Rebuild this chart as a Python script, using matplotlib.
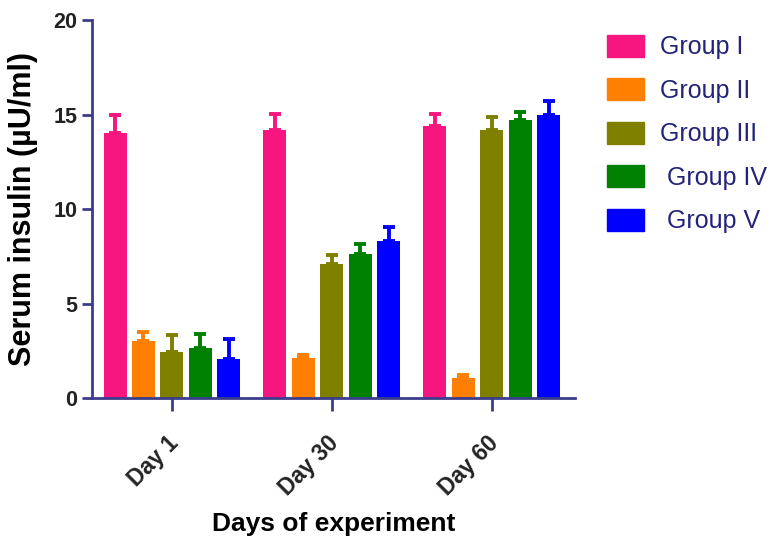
import numpy as np
import matplotlib
matplotlib.use("Agg")
import matplotlib.pyplot as plt
import matplotlib.transforms as mtransforms
from matplotlib.patches import Patch

plt.rcParams["font.family"] = ["Liberation Sans", "DejaVu Sans"]

# data
days = ["Day 1", "Day 30", "Day 60"]
groups = ["Group I", "Group II", "Group III", " Group IV", " Group V"]
colors = ["#f7157f", "#ff8000", "#808000", "#008000", "#0000ff"]

group_1 = [14.0, 14.2, 14.4]
group_2 = [3.0, 2.1, 1.05]
group_3 = [2.45, 7.1, 14.2]
group_4 = [2.65, 7.6, 14.7]
group_5 = [2.05, 8.3, 15.0]
means = [group_1, group_2, group_3, group_4, group_5]

err_1 = [0.95, 0.85, 0.65]
err_2 = [0.5, 0.15, 0.17]
err_3 = [0.9, 0.45, 0.65]
err_4 = [0.75, 0.55, 0.45]
err_5 = [1.05, 0.75, 0.7]
errs = [err_1, err_2, err_3, err_4, err_5]

axis_col = "#3c3c8c"

fig = plt.figure(figsize=(7.81, 5.45), dpi=100)
ax = fig.add_axes([0.1178, 0.2697, 0.6184, 0.6936])

x = np.arange(len(days))
pitch = 0.178
width = 0.144
for i, (vals, e, c) in enumerate(zip(means, errs, colors)):
    xs = x + (i - 2) * pitch
    ax.bar(xs, vals, width=width, color=c, zorder=2)
    ax.errorbar(xs, vals, yerr=[np.zeros(len(vals)), e], fmt="none",
                ecolor=c, elinewidth=2.8, capsize=4.5, capthick=2.8, zorder=2)

ax.set_xlim(-0.5, 2.52)
ax.set_ylim(0, 20)
ax.set_yticks([0, 5, 10, 15, 20])
ax.set_xticks(x)
ax.set_xticklabels(days, rotation=45, ha="right", va="top",
                   rotation_mode="anchor", fontsize=16.5)

for s in ["top", "right"]:
    ax.spines[s].set_visible(False)
for s in ["left", "bottom"]:
    ax.spines[s].set_color(axis_col)
    ax.spines[s].set_linewidth(2)

ax.tick_params(axis="both", colors=axis_col, width=2, length=7,
               labelcolor="#222222")
ax.tick_params(axis="y", labelsize=15.5)
ax.tick_params(axis="x", length=9, pad=15)
shift = mtransforms.ScaledTranslation(-5 / 100, 0, fig.dpi_scale_trans)
for lab in ax.get_xticklabels():
    lab.set_fontweight("bold")
    lab.set_transform(lab.get_transform() + shift)
for lab in ax.get_yticklabels():
    lab.set_fontweight("bold")

ax.set_ylabel("Serum insulin (\u00b5U/ml)", fontsize=22, fontweight="bold",
              labelpad=11)
ax.set_xlabel("Days of experiment", fontsize=19, fontweight="bold", labelpad=9)

handles = [Patch(facecolor=c, edgecolor=c) for c in colors]
leg = fig.legend(handles, groups, loc="upper left",
                 bbox_to_anchor=(0.764, 0.955), frameon=False, fontsize=18,
                 handlelength=1.5, handleheight=1.0, handletextpad=0.65,
                 labelspacing=0.75, borderaxespad=0)
for t in leg.get_texts():
    t.set_color("#23237a")

fig.savefig("out.png", dpi=100)
